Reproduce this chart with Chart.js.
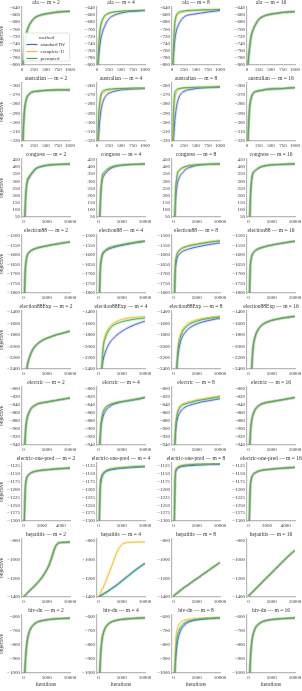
<!DOCTYPE html>
<html>
<head>
<meta charset="utf-8">
<script src="https://cdn.jsdelivr.net/npm/chart.js@4.4.1/dist/chart.umd.min.js"></script>
<style>
  html, body { margin: 0; padding: 0; background: #fff; }
  #grid { position: relative; width: 302px; height: 691px; overflow: hidden; }
  #grid canvas { position: absolute; }
</style>
</head>
<body>
<div id="grid"></div>
<script>
// methods / panels
const methodNames = ['standard IW', 'complete-U', 'permuted'];
const methodColors = ['#4461dc', '#f0c020', '#2cb455'];
const mValues = [2, 4, 8, 16];

// ala
const alaIters = [20, 40, 60, 80, 100, 150, 200, 250, 300, 400, 500, 600, 750, 1000];
const alaXTicks = [0, 250, 500, 750, 1000];
const alaYTicks = [-800, -780, -760, -740, -720, -700, -680, -660, -640];
const alaM2 = [-800, -762, -738, -720, -707, -689, -678, -670, -665, -660, -657, -655, -652, -650];
const alaM4Std = [-800, -770, -745, -728, -715, -695, -680, -671, -665, -659, -655, -652, -650, -648];
const alaM4Comp = [-800, -745, -710, -692, -681, -667, -660, -656, -654, -652, -650, -649, -648, -647];
const alaM4Perm = [-800, -740, -705, -688, -678, -664, -658, -655, -653, -651, -650, -649, -648, -647];
const alaM8Std = [-800, -760, -730, -712, -700, -684, -673, -666, -662, -659, -657, -655, -652, -648];
const alaM8Comp = [-800, -730, -690, -672, -663, -656, -653, -651, -650, -649, -648, -647, -646, -645];
const alaM8Perm = [-800, -720, -680, -665, -658, -652, -650, -649, -648, -647, -647, -646, -646, -645];
const alaM16 = [-800, -770, -745, -725, -712, -694, -682, -672, -667, -661, -658, -656, -653, -651];

// australian
const ausIters = [20, 30, 40, 50, 60, 80, 100, 150, 200, 300, 400, 500, 750, 1000];
const ausXTicks = [0, 250, 500, 750, 1000];
const ausYTicks = [-320, -310, -300, -290, -280, -270, -260];
const ausM2 = [-320, -306, -296, -288, -283, -277, -273, -269, -267, -266, -265.5, -265, -264.5, -264.5];
const ausM4Std = [-320, -316, -310, -303, -297, -288, -282, -274, -270, -267, -265.5, -264.5, -263.5, -263];
const ausM4Comp = [-320, -305, -294, -286, -281, -274, -270, -267, -265.5, -264.5, -264, -263.5, -263, -262.5];
const ausM4Perm = [-320, -300, -288, -281, -276, -270, -267, -265, -264, -263.5, -263, -263, -262.5, -262.5];
const ausM8Std = [-320, -318, -312, -305, -298, -288, -281, -272, -268, -265, -264, -263, -262, -261.5];
const ausM8Comp = [-320, -300, -287, -279, -274, -269, -266, -264, -263, -262.5, -262, -262, -261.5, -261];
const ausM8Perm = [-320, -290, -278, -271, -267, -265, -264, -263, -262.5, -262, -262, -261.5, -261.5, -261];
const ausM16 = [-320, -308, -296, -287, -281, -275, -271, -267, -266, -265, -264, -263.5, -263, -262];

// congress
const congIters = [300, 500, 700, 900, 1200, 1500, 2000, 2500, 3000, 4000, 5000, 6000, 7500, 10000];
const longXTicks = [0, 5000, 10000];
const congYTicks = [50, 100, 150, 200, 250, 300, 350, 400, 450];
const congM2Std = [50, 190, 270, 300, 320, 338, 360, 380, 392, 403, 410, 414, 417, 420];
const congM2Comp = [50, 205, 283, 318, 332, 347, 366, 385, 395, 405, 412, 415, 418, 420];
const congM2Perm = [50, 200, 280, 315, 330, 345, 365, 385, 395, 405, 412, 415, 418, 420];
const congM4Std = [50, 200, 280, 320, 340, 355, 372, 386, 395, 405, 411, 414, 417, 420];
const congM4Comp = [50, 215, 296, 340, 356, 367, 383, 394, 401, 409, 413, 416, 418, 420];
const congM4Perm = [50, 220, 300, 345, 360, 370, 385, 395, 402, 410, 414, 416, 418, 420];
const congM8Std = [50, 180, 250, 290, 320, 340, 360, 378, 390, 402, 410, 414, 418, 420];
const congM8Comp = [50, 240, 312, 352, 370, 381, 392, 400, 405, 411, 414, 416, 418, 420];
const congM8Perm = [50, 250, 320, 360, 375, 385, 395, 402, 407, 412, 415, 417, 419, 421];
const congM16 = [50, 230, 310, 350, 365, 375, 388, 397, 403, 410, 414, 416, 418, 421];

// election88
const e88Iters = [250, 400, 600, 800, 1000, 1500, 2000, 3000, 4000, 5000, 6000, 7500, 9000, 10000];
const e88YTicks = [-1800, -1750, -1700, -1650, -1600, -1550, -1500];
const e88M2 = [-1800, -1680, -1630, -1605, -1593, -1580, -1572, -1563, -1557, -1552, -1547, -1541, -1535, -1532];
const e88M4Std = [-1800, -1685, -1632, -1608, -1595, -1581, -1572, -1562, -1555, -1550, -1545, -1538, -1532, -1529];
const e88M4Perm = [-1800, -1670, -1620, -1598, -1587, -1574, -1566, -1557, -1551, -1546, -1541, -1535, -1529, -1526];
const e88M8Std = [-1800, -1690, -1640, -1617, -1604, -1590, -1581, -1571, -1564, -1558, -1553, -1546, -1540, -1536];
const e88M8Comp = [-1800, -1655, -1610, -1591, -1581, -1569, -1561, -1552, -1546, -1541, -1537, -1531, -1526, -1523];
const e88M8Perm = [-1800, -1660, -1615, -1595, -1585, -1572, -1564, -1555, -1549, -1544, -1540, -1534, -1529, -1526];
const e88M16 = [-1800, -1665, -1620, -1600, -1590, -1577, -1569, -1560, -1553, -1548, -1543, -1537, -1531, -1528];

// election88Exp
const e88xIters = [700, 1000, 1500, 2000, 2500, 3000, 4000, 5000, 6000, 7000, 8000, 9000, 10000];
const e88xYTicks = [-2400, -2200, -2000, -1800, -1600, -1400];
const e88xM2 = [-2400, -2280, -2150, -2060, -2000, -1960, -1900, -1860, -1830, -1800, -1780, -1755, -1735];
const e88xM4Std = [-2400, -2250, -2100, -2000, -1930, -1880, -1800, -1740, -1690, -1650, -1615, -1585, -1560];
const e88xM4Comp = [-2400, -2000, -1810, -1710, -1650, -1610, -1560, -1530, -1510, -1498, -1490, -1483, -1477];
const e88xM4Perm = [-2400, -2050, -1850, -1750, -1690, -1645, -1600, -1570, -1550, -1535, -1522, -1512, -1505];
const e88xM8Std = [-2400, -2150, -1930, -1820, -1760, -1710, -1650, -1610, -1580, -1558, -1540, -1523, -1510];
const e88xM8Comp = [-2400, -2000, -1800, -1700, -1650, -1610, -1565, -1535, -1515, -1500, -1490, -1480, -1470];
const e88xM8Perm = [-2400, -2050, -1840, -1735, -1680, -1640, -1590, -1560, -1535, -1518, -1505, -1495, -1485];
const e88xM16 = [-2400, -2030, -1820, -1720, -1660, -1620, -1575, -1545, -1525, -1508, -1495, -1485, -1475];

// electric
const elecIters = [300, 500, 700, 1000, 1500, 2000, 2500, 3000, 4000, 5000, 6000, 7500, 9000, 10000];
const elecYTicks = [-940, -920, -900, -880, -860, -840, -820, -800];
const elecM2 = [-940, -900, -880, -866, -853, -846, -842, -839, -836, -834, -832, -829, -826, -824];
const elecM4Std = [-940, -905, -885, -870, -857, -849, -845, -841, -837, -834, -832, -829, -826, -823];
const elecM4Perm = [-940, -895, -875, -860, -848, -843, -840, -838, -835, -833, -831, -828, -825, -822];
const elecM8Std = [-940, -905, -885, -870, -858, -851, -847, -844, -840, -837, -834, -831, -828, -826];
const elecM8Comp = [-940, -890, -868, -853, -843, -839, -837, -835, -832, -829, -827, -824, -821, -819];
const elecM8Perm = [-940, -893, -872, -857, -846, -841, -839, -837, -834, -831, -829, -826, -823, -821];
const elecM16 = [-940, -900, -880, -865, -852, -845, -841, -838, -835, -833, -831, -828, -825, -823];

// electric-one-pred
const eopShortIters = [100, 200, 300, 500, 750, 1000, 1500, 2000, 3000, 4000, 5000];
const eopLongIters = [200, 400, 600, 1000, 1500, 2000, 3000, 5000, 7500, 10000];
const shortXTicks = [0, 2000, 4000];
const eopYTicks = [-1300, -1275, -1250, -1225, -1200, -1175, -1150, -1125];
const eopM2 = [-1300, -1200, -1170, -1155, -1148, -1144, -1140, -1138, -1135, -1133, -1131];
const eopM4Std = [-1300, -1200, -1172, -1152, -1144, -1140, -1136, -1132, -1129, -1127];
const eopM4Perm = [-1300, -1185, -1162, -1148, -1141, -1137, -1133, -1130, -1127, -1125];
const eopM8Std = [-1300, -1160, -1140, -1132, -1128, -1126, -1124, -1122, -1120, -1119];
const eopM8Comp = [-1300, -1150, -1133, -1127, -1124, -1122, -1120, -1119, -1118, -1117];
const eopM8Perm = [-1300, -1152, -1135, -1128, -1125, -1123, -1121, -1119, -1118, -1117];
const eopM16 = [-1300, -1195, -1168, -1152, -1146, -1142, -1138, -1136, -1133, -1131, -1129];

// hepatitis
const hepIters = [0, 1000, 2000, 3000, 4000, 5000, 5500, 6000, 6500, 7000, 7500, 8000, 9000, 10000];
const hepYTicks = [-1400, -1200, -1000, -800];
const hepM2 = [-1400, -1350, -1300, -1250, -1190, -1110, -1060, -990, -910, -850, -825, -818, -815, -813];
const hepM4Comp = [-1400, -1300, -1180, -1050, -920, -840, -825, -820, -817, -815, -814, -813, -812, -812];
const hepM4Perm = [-1400, -1370, -1340, -1305, -1270, -1230, -1210, -1190, -1170, -1150, -1130, -1110, -1075, -1040];
const hepM8 = [-1390, -1350, -1310, -1275, -1240, -1205, -1188, -1170, -1152, -1135, -1118, -1100, -1065, -1030];
const hepM16 = [-1390, -1340, -1290, -1240, -1190, -1140, -1115, -1090, -1065, -1040, -1015, -990, -945, -900];

// hiv-dn
const hivIters = [300, 500, 750, 1000, 1500, 2000, 3000, 4000, 5000, 7500, 10000];
const hivYTicks = [-1000, -900, -800, -700, -600];
const hivM2 = [-1000, -880, -790, -740, -690, -665, -640, -630, -624, -616, -612];
const hivM4 = [-1000, -860, -770, -725, -680, -658, -636, -627, -621, -614, -610];
const hivM8Std = [-1000, -900, -810, -760, -705, -675, -645, -632, -625, -616, -611];
const hivM8Comp = [-1000, -780, -700, -670, -645, -633, -622, -617, -614, -610, -608];
const hivM8Perm = [-1000, -850, -760, -720, -680, -658, -636, -627, -621, -614, -610];
const hivM16 = [-1000, -865, -775, -728, -682, -660, -637, -628, -622, -615, -611];

// 每一行的面板配置（由上面的数组组装）
const rows = [
    { name: 'ala', yTicks: alaYTicks, yMax: -638,
      iters: [alaIters, alaIters, alaIters, alaIters],
      xTicks: [alaXTicks, alaXTicks, alaXTicks, alaXTicks], xMin: [0, 0, 0, 0], xMax: [1000, 1000, 1000, 1000],
      series: [[alaM2, alaM2, alaM2], [alaM4Std, alaM4Comp, alaM4Perm], [alaM8Std, alaM8Comp, alaM8Perm], [alaM16, alaM16, alaM16]] },
    { name: 'australian', yTicks: ausYTicks, yMax: -257,
      iters: [ausIters, ausIters, ausIters, ausIters],
      xTicks: [ausXTicks, ausXTicks, ausXTicks, ausXTicks], xMin: [0, 0, 0, 0], xMax: [1000, 1000, 1000, 1000],
      series: [[ausM2, ausM2, ausM2], [ausM4Std, ausM4Comp, ausM4Perm], [ausM8Std, ausM8Comp, ausM8Perm], [ausM16, ausM16, ausM16]] },
    { name: 'congress', yTicks: congYTicks, yMax: 455,
      iters: [congIters, congIters, congIters, congIters],
      xTicks: [longXTicks, longXTicks, longXTicks, longXTicks], xMin: [-300, -300, -300, -300], xMax: [10000, 10000, 10000, 10000],
      series: [[congM2Std, congM2Comp, congM2Perm], [congM4Std, congM4Comp, congM4Perm], [congM8Std, congM8Comp, congM8Perm], [congM16, congM16, congM16]] },
    { name: 'election88', yTicks: e88YTicks, yMax: -1495,
      iters: [e88Iters, e88Iters, e88Iters, e88Iters],
      xTicks: [longXTicks, longXTicks, longXTicks, longXTicks], xMin: [-300, -300, -300, -300], xMax: [10000, 10000, 10000, 10000],
      series: [[e88M2, e88M2, e88M2], [e88M4Std, e88M4Perm, e88M4Perm], [e88M8Std, e88M8Comp, e88M8Perm], [e88M16, e88M16, e88M16]] },
    { name: 'election88Exp', yTicks: e88xYTicks, yMax: -1380,
      iters: [e88xIters, e88xIters, e88xIters, e88xIters],
      xTicks: [longXTicks, longXTicks, longXTicks, longXTicks], xMin: [-300, -300, -300, -300], xMax: [10000, 10000, 10000, 10000],
      series: [[e88xM2, e88xM2, e88xM2], [e88xM4Std, e88xM4Comp, e88xM4Perm], [e88xM8Std, e88xM8Comp, e88xM8Perm], [e88xM16, e88xM16, e88xM16]] },
    { name: 'electric', yTicks: elecYTicks, yMax: -797,
      iters: [elecIters, elecIters, elecIters, elecIters],
      xTicks: [longXTicks, longXTicks, longXTicks, longXTicks], xMin: [-300, -300, -300, -300], xMax: [10000, 10000, 10000, 10000],
      series: [[elecM2, elecM2, elecM2], [elecM4Std, elecM4Perm, elecM4Perm], [elecM8Std, elecM8Comp, elecM8Perm], [elecM16, elecM16, elecM16]] },
    { name: 'electric-one-pred', yTicks: eopYTicks, yMax: -1115,
      iters: [eopShortIters, eopLongIters, eopLongIters, eopShortIters],
      xTicks: [shortXTicks, longXTicks, longXTicks, shortXTicks], xMin: [-150, -300, -300, -150], xMax: [5000, 10000, 10000, 5000],
      series: [[eopM2, eopM2, eopM2], [eopM4Std, eopM4Perm, eopM4Perm], [eopM8Std, eopM8Comp, eopM8Perm], [eopM16, eopM16, eopM16]] },
    { name: 'hepatitis', yTicks: hepYTicks, yMax: -780,
      iters: [hepIters, hepIters, hepIters, hepIters],
      xTicks: [longXTicks, longXTicks, longXTicks, longXTicks], xMin: [-300, -300, -300, -300], xMax: [10000, 10000, 10000, 10000],
      series: [[hepM2, hepM2, hepM2], [hepM4Perm, hepM4Comp, hepM4Perm], [hepM8, hepM8, hepM8], [hepM16, hepM16, hepM16]] },
    { name: 'hiv-dn', yTicks: hivYTicks, yMax: -590,
      iters: [hivIters, hivIters, hivIters, hivIters],
      xTicks: [longXTicks, longXTicks, longXTicks, longXTicks], xMin: [-300, -300, -300, -300], xMax: [10000, 10000, 10000, 10000],
      series: [[hivM2, hivM2, hivM2], [hivM4, hivM4, hivM4], [hivM8Std, hivM8Comp, hivM8Perm], [hivM16, hivM16, hivM16]] }
];

// 版面尺寸
const PLOT_W = 48;
const PLOT_H = 58;
const COL_X = [22, 97, 172, 247];
const TOP0 = 6.5;
const ROW_PITCH = 76.1;
const TITLE_SPACE = 9;
const PAD_RIGHT = 20;

const FONT = '"Liberation Serif", "DejaVu Serif", serif';
const TEXT_COLOR = '#333333';
const SPINE_COLOR = '#b8b8b8';

Chart.defaults.font.family = FONT;
Chart.defaults.color = TEXT_COLOR;

function fmtTick(v) {
    return v < 0 ? '\u2212' + Math.abs(v) : String(v);
}

function withAlpha(hex, a) {
    const n = parseInt(hex.slice(1), 16);
    return `rgba(${(n >> 16) & 255}, ${(n >> 8) & 255}, ${n & 255}, ${a})`;
}

// 标题 + 图例（只在第一个面板）
const panelDecor = {
    id: 'panelDecor',
    afterDraw(chart, args, opts) {
        const { ctx, chartArea } = chart;
        ctx.save();
        ctx.font = `5.5px ${FONT}`;
        ctx.fillStyle = TEXT_COLOR;
        ctx.textAlign = 'center';
        ctx.textBaseline = 'middle';
        ctx.fillText(opts.title, (chartArea.left + chartArea.right) / 2, chartArea.top - 4);

        if (opts.legend) {
            const bx = chartArea.left + 1.5, by = chartArea.top + 26, bw = 46, bh = 28;
            ctx.fillStyle = 'rgba(255,255,255,0.9)';
            ctx.strokeStyle = '#dddddd';
            ctx.lineWidth = 0.8;
            ctx.beginPath();
            ctx.roundRect(bx, by, bw, bh, 1.5);
            ctx.fill();
            ctx.stroke();
            ctx.fillStyle = TEXT_COLOR;
            ctx.font = `5px ${FONT}`;
            ctx.fillText('method', bx + bw / 2, by + 4.5);
            ctx.textAlign = 'left';
            methodNames.forEach((name, i) => {
                const y = by + 11.5 + i * 7;
                ctx.strokeStyle = methodColors[i];
                ctx.lineWidth = 1.2;
                ctx.beginPath();
                ctx.moveTo(bx + 3, y);
                ctx.lineTo(bx + 14, y);
                ctx.stroke();
                ctx.fillStyle = TEXT_COLOR;
                ctx.fillText(name, bx + 17, y);
            });
        }
        ctx.restore();
    }
};

function makeDatasets(iters, seriesList) {
    const lines = [];
    const bands = [];
    // 第一个数据集画在最上面：permuted 在上
    for (let i = seriesList.length - 1; i >= 0; i--) {
        const pts = iters.map((x, k) => ({ x: x, y: seriesList[i][k] }));
        lines.push({
            label: methodNames[i], data: pts, borderColor: methodColors[i],
            borderWidth: 0.9, pointRadius: 0, cubicInterpolationMode: 'monotone', fill: false
        });
        bands.push({
            label: methodNames[i] + ' band', data: pts, borderColor: withAlpha(methodColors[i], 0.22),
            borderWidth: 2.8, pointRadius: 0, cubicInterpolationMode: 'monotone', fill: false
        });
    }
    return lines.concat(bands);
}

const grid = document.getElementById('grid');

rows.forEach((row, r) => {
    mValues.forEach((m, c) => {
        const yW = c === 0 ? 24 : 20;
        const xH = r === rows.length - 1 ? 15 : 8;
        const plotLeft = COL_X[c];
        const plotTop = Math.round(TOP0 + r * ROW_PITCH);

        const canvas = document.createElement('canvas');
        canvas.width = yW + PLOT_W + PAD_RIGHT;
        canvas.height = TITLE_SPACE + PLOT_H + xH;
        canvas.style.left = (plotLeft - yW) + 'px';
        canvas.style.top = (plotTop - TITLE_SPACE) + 'px';
        canvas.style.width = canvas.width + 'px';
        canvas.style.height = canvas.height + 'px';
        grid.appendChild(canvas);

        const tickFont = { size: 5, family: FONT };
        const xt = row.xTicks[c];
        const yt = row.yTicks;

        new Chart(canvas, {
            type: 'line',
            data: { datasets: makeDatasets(row.iters[c], row.series[c]) },
            options: {
                responsive: false,
                animation: false,
                events: [],
                layout: { padding: { top: TITLE_SPACE, right: PAD_RIGHT, left: 0, bottom: 0 } },
                plugins: {
                    legend: { display: false },
                    tooltip: { enabled: false },
                    panelDecor: { title: `${row.name} \u2014 m = ${m}`, legend: r === 0 && c === 0 }
                },
                scales: {
                    x: {
                        type: 'linear',
                        min: row.xMin[c],
                        max: row.xMax[c],
                        grid: { display: false, drawTicks: false, tickLength: 0 },
                        border: { display: true, color: SPINE_COLOR, width: 1.2 },
                        ticks: { font: tickFont, color: TEXT_COLOR, padding: 1.5, autoSkip: false, maxRotation: 0, callback: fmtTick },
                        afterBuildTicks: s => { s.ticks = xt.map(v => ({ value: v })); },
                        afterFit: s => { s.height = xH; },
                        title: { display: r === rows.length - 1, text: 'iterations', font: { size: 5.5, family: FONT }, color: TEXT_COLOR, padding: 0 }
                    },
                    y: {
                        type: 'linear',
                        min: yt[0],
                        max: row.yMax,
                        grid: { display: false, drawTicks: false, tickLength: 0 },
                        border: { display: true, color: SPINE_COLOR, width: 1.2 },
                        ticks: { font: tickFont, color: TEXT_COLOR, padding: 2, autoSkip: false, callback: fmtTick },
                        afterBuildTicks: s => { s.ticks = yt.map(v => ({ value: v })); },
                        afterFit: s => { s.width = yW; },
                        title: { display: c === 0, text: 'objective', font: { size: 5.5, family: FONT }, color: TEXT_COLOR, padding: 0 }
                    }
                }
            },
            plugins: [panelDecor]
        });
    });
});
</script>
</body>
</html>
